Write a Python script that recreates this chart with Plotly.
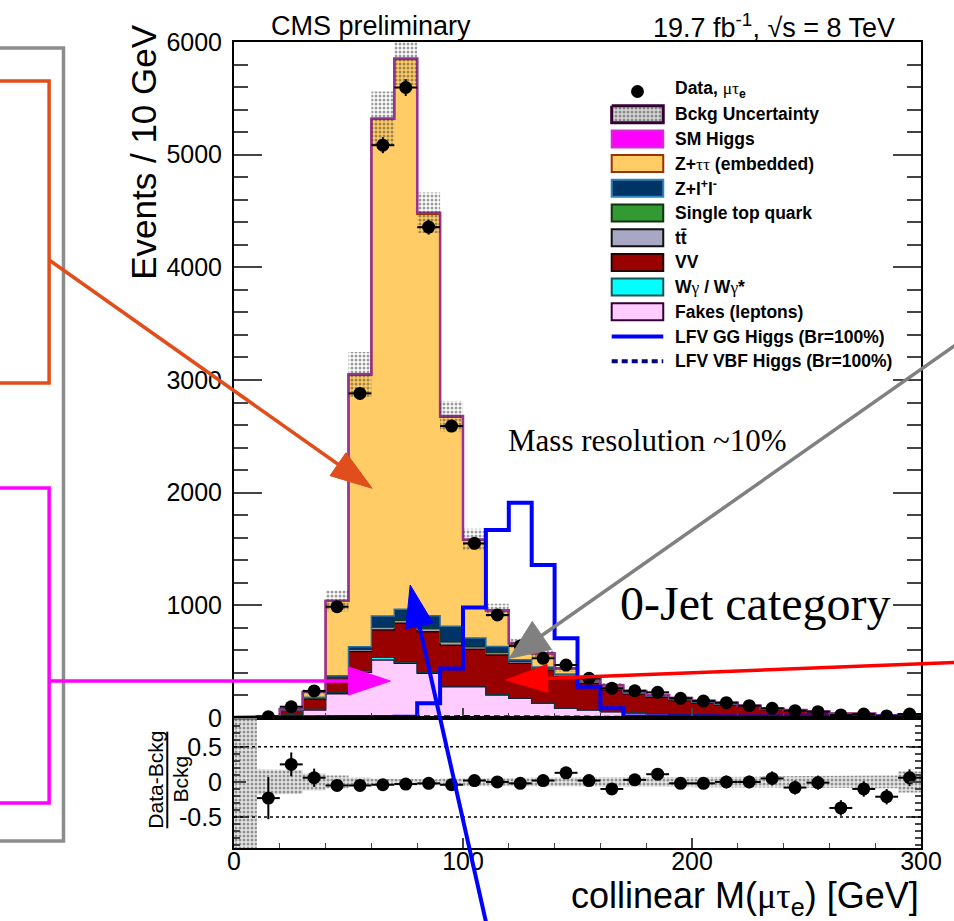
import plotly.graph_objects as go

# ---------------- binning: collinear mass, 10 GeV bins ----------------
bin_edges = list(range(0, 310, 10))
bin_centers = [e + 5 for e in bin_edges[:-1]]

# ---------------- observed events per bin ----------------
data_counts = [None, 12, 100, 240, 988, 2881, 5084, 5596, 4357, 2591, 1550, 914, 640, 530, 470,
               352, 263, 242, 228, 175, 150, 136, 109, 86, 65, 56, 27, 35, 18, 35]
data_err = [0, 4, 10, 15, 31, 54, 71, 75, 66, 51, 39, 30, 25, 23, 22,
            19, 16, 16, 15, 13, 12, 12, 10, 9, 8, 7, 5, 6, 4, 6]

# ---------------- background processes (events per bin) ----------------
fakes = [0.5, 6, 25, 70, 215, 405, 515, 485, 397, 278, 280, 204, 175, 130, 86,
         70, 55, 45, 38, 30, 25, 22, 18, 14, 11, 9, 7, 6, 4, 5]
wgamma = [0, 0.5, 3, 8, 10, 12, 22, 10, 8, 6, 5, 4, 3, 2, 2,
          1, 1, 1, 1, 1, 0.5, 0.5, 0.5, 0.3, 0.3, 0.2, 0.2, 0.1, 0.1, 0.1]
diboson = [0.3, 6, 40, 90, 125, 174, 243, 345, 361, 362, 325, 352, 307, 294, 279,
           237, 194, 168, 145, 125, 108, 96, 78, 58, 50, 40, 30, 28, 16, 22]
ttbar = [0, 0.5, 3, 5, 8, 12, 20, 20, 20, 22, 15, 15, 12, 12, 12,
         10, 9, 8, 7, 6, 5, 5, 4, 3, 3, 2, 2, 2, 1, 2]
single_top = [0, 0.1, 1, 2, 3, 4, 6, 6, 6, 6, 6, 5, 5, 4, 4,
              3, 3, 3, 2, 2, 2, 2, 1.5, 1, 1, 1, 1, 0.5, 0.5, 0.5]
z_ll = [0, 0.5, 3, 10, 15, 25, 100, 100, 115, 140, 80, 55, 15, 10, 8,
        5, 5, 4, 3, 3, 2, 2, 2, 1, 1, 1, 0.5, 0.5, 0.5, 0.5]
z_tautau = [0.7, 2.4, 5, 45, 663, 2413, 4410, 4880, 3567, 1858, 868, 317, 143, 118, 47,
            17, 21, 10, 8, 10, 10, 8, 4.5, 4.4, 4.5, 3.6, 2.2, 1.8, 2.8, 2.8]
sm_higgs = [0, 0, 0, 0, 2, 5, 5, 7, 10, 8, 6, 5, 5, 4, 3,
            2, 2, 1, 1, 1, 0.5, 0.5, 0.5, 0.3, 0.2, 0.2, 0.1, 0.1, 0.1, 0.1]

# relative uncertainty on the summed background
bkg_rel_unc = [3.0, 0.18, 0.17, 0.12, 0.09, 0.065, 0.045, 0.04, 0.04, 0.05, 0.06, 0.06, 0.06, 0.065, 0.065,
               0.07, 0.07, 0.07, 0.07, 0.07, 0.075, 0.075, 0.075, 0.08, 0.08, 0.08, 0.085, 0.085, 0.09, 0.15]

# ---------------- LFV signal hypotheses (Br = 100%) ----------------
lfv_gg = [3, 5, 6, 6, 8, 8, 10, 12, 130, 440, 980, 1668, 1910, 1358, 707,
          278, 86, 15, 12, 12, 10, 10, 10, 10, 10, 10, 10, 10, 10, 10]
lfv_vbf = [0, 0, 1, 1, 2, 3, 4, 5, 7, 8, 9, 10, 9, 8, 6,
           4, 2, 1, 1, 1, 1, 1, 1, 0.5, 0.5, 0.5, 0.5, 0.5, 0.5, 0.5]

# ---------------- (Data - Bckg) / Bckg ----------------
ratio_vals = [None, -0.23, 0.25, 0.06, -0.05, -0.05, -0.04, -0.03, -0.02, -0.04, 0.02, 0.0, -0.02, 0.02, 0.13,
              0.02, -0.10, 0.03, 0.11, -0.02, -0.02, 0.0, 0.0, 0.05, -0.08, -0.01, -0.37, -0.10, -0.21, 0.06]
ratio_err = [0, 0.30, 0.17, 0.13, 0.04, 0.025, 0.02, 0.02, 0.02, 0.025, 0.03, 0.04, 0.045, 0.05, 0.05,
             0.06, 0.06, 0.07, 0.07, 0.08, 0.08, 0.09, 0.09, 0.1, 0.1, 0.1, 0.11, 0.11, 0.11, 0.12]

# legend entries: (label, fill, outline)
legend_entries = [
    ("<b>Bckg Uncertainty</b>", None, "#330033"),
    ("<b>SM Higgs</b>", "#FF00FF", "#CC33CC"),
    ("<b>Z+</b><span style='font-family:Liberation Serif'>ττ</span><b> (embedded)</b>", "#FFCC66", "#993300"),
    ("<b>Z+l<sup>+</sup>l<sup>-</sup></b>", "#003366", "#2F86B8"),
    ("<b>Single top quark</b>", "#339933", "#123312"),
    ("<b>tt\u0304</b>", "#A8A8C4", "#111111"),
    ("<b>VV</b>", "#990000", "#2A0000"),
    ("<b>W</b><span style='font-family:Liberation Serif'>γ</span><b> / W</b>"
     "<span style='font-family:Liberation Serif'>γ</span><b>*</b>", "#00FFFF", "#115555"),
    ("<b>Fakes (leptons)</b>", "#FFCCFF", "#330033"),
]

SANS = "Liberation Sans, Arial, Helvetica, sans-serif"
SERIF = "Liberation Serif, Times New Roman, serif"

# ---------------- page geometry (pixels) ----------------
W, H = 954, 921
L, R, T, B = 234, 927, 42, 848
SPLIT = 718
ratio_frac = (B - SPLIT) / (B - T)


def px(x):
    return (x - L) / (R - L)


def py(y):
    return (B - y) / (B - T)


def step_path(vals):
    xs, ys = [], []
    for i, v in enumerate(vals):
        xs += [bin_edges[i], bin_edges[i + 1]]
        ys += [v, v]
    return xs, ys


def band_polygon(lo, hi):
    xl, yl = step_path(lo)
    xh, yh = step_path(hi)
    return xl + xh[::-1] + [xl[0]], yl + yh[::-1] + [yl[0]]


fig = go.Figure()

# ---------------- stacked backgrounds ----------------
stack = [
    (fakes, "#FFCCFF", "#330033", 1.5),
    (wgamma, "#00FFFF", "#0B3B3B", 1.2),
    (diboson, "#990000", "#2A0000", 1.5),
    (ttbar, "#A8A8C4", "#8A8AA8", 1.2),
    (single_top, "#339933", "#123312", 1.0),
    (z_ll, "#003366", "#2F6F99", 1.5),
    (z_tautau, "#FFCC66", "#993300", 2.0),
    (sm_higgs, "#FF00FF", "#993399", 2.5),
]
running = [0.0] * len(bin_centers)
for k, (vals, fillc, linec, lw) in enumerate(stack):
    running = [a + b for a, b in zip(running, vals)]
    xs, ys = step_path(running)
    fig.add_trace(go.Scatter(
        x=xs, y=ys, mode="lines", line=dict(color=linec, width=lw),
        fill="tozeroy" if k == 0 else "tonexty", fillcolor=fillc,
        xaxis="x", yaxis="y", hoverinfo="skip"))
total_bkg = running

# background uncertainty band (main panel)
lo = [t * (1 - u) for t, u in zip(total_bkg, bkg_rel_unc)]
hi = [t * (1 + u) for t, u in zip(total_bkg, bkg_rel_unc)]
bx, byv = band_polygon(lo, hi)
hatch = dict(shape=".", fgcolor="#3a3a3a", bgcolor="rgba(0,0,0,0)", size=4, solidity=0.45)
fig.add_trace(go.Scatter(
    x=bx, y=byv, mode="lines", line=dict(width=0), fill="toself",
    fillcolor="rgba(0,0,0,0)", fillpattern=hatch, xaxis="x", yaxis="y", hoverinfo="skip"))

# LFV signals
gx, gy = step_path(lfv_gg)
fig.add_trace(go.Scatter(x=gx, y=gy, mode="lines", line=dict(color="#0000FF", width=4),
                         xaxis="x", yaxis="y", hoverinfo="skip"))
vx, vy = step_path(lfv_vbf)
fig.add_trace(go.Scatter(x=vx, y=vy, mode="lines", line=dict(color="#000080", width=4, dash="6px,4px"),
                         xaxis="x", yaxis="y", hoverinfo="skip"))

# data
fig.add_trace(go.Scatter(
    x=bin_centers, y=data_counts, mode="markers",
    marker=dict(color="black", size=13),
    error_y=dict(type="data", array=data_err, color="black", thickness=2, width=0),
    error_x=dict(type="constant", value=5, color="black", thickness=2, width=0),
    xaxis="x", yaxis="y", hoverinfo="skip"))

# ---------------- ratio panel ----------------
rlo = [-u for u in bkg_rel_unc]
rhi = [u for u in bkg_rel_unc]
rx, ry = band_polygon(rlo, rhi)
fig.add_trace(go.Scatter(
    x=rx, y=ry, mode="lines", line=dict(width=0), fill="toself",
    fillcolor="rgba(200,200,200,0.35)",
    fillpattern=dict(shape=".", fgcolor="#3a3a3a", bgcolor="rgba(215,215,215,0.6)", size=4, solidity=0.45),
    xaxis="x2", yaxis="y2", hoverinfo="skip"))
fig.add_trace(go.Scatter(
    x=bin_centers, y=ratio_vals, mode="markers",
    marker=dict(color="black", size=13),
    error_y=dict(type="data", array=ratio_err, color="black", thickness=2, width=0),
    error_x=dict(type="constant", value=5, color="black", thickness=2, width=0),
    xaxis="x2", yaxis="y2", hoverinfo="skip"))

# ---------------- legend glyphs ----------------
row0 = 89.5
row_h = 24.7
box_x0, box_x1 = 615, 667
text_x = 677
legend_font = 17.5
shapes = []
annotations = []


def rect_px(x0, y0, x1, y1, fill, line, lw):
    return dict(type="rect", xref="paper", yref="paper", x0=px(x0), x1=px(x1),
                y0=py(y1), y1=py(y0), fillcolor=fill, line=dict(color=line, width=lw), layer="above")


def text_px(x, y, s, size, family=SANS, xanchor="left", yanchor="middle", angle=0, color="black"):
    annotations.append(dict(x=px(x), y=py(y), xref="paper", yref="paper", text=s, showarrow=False,
                            xanchor=xanchor, yanchor=yanchor, textangle=angle,
                            font=dict(size=size, family=family, color=color)))


# data entry
shapes.append(dict(type="circle", xref="paper", yref="paper", x0=px(641 - 6.5), x1=px(641 + 6.5),
                   y0=py(91.5 + 6.5), y1=py(91.5 - 6.5), fillcolor="black", line=dict(width=0), layer="above"))
text_px(text_x, row0, "<b>Data,</b> <span style='font-family:Liberation Serif'>μτ</span><sub><b>e</b></sub>",
        legend_font)

for i, (label, fillc, linec) in enumerate(legend_entries):
    yc = row0 + row_h * (i + 1)
    if fillc is None:
        hx = [box_x0, box_x1, box_x1, box_x0, box_x0]
        hy = [yc - 8.5, yc - 8.5, yc + 8.5, yc + 8.5, yc - 8.5]
        fig.add_trace(go.Scatter(
            x=hx, y=hy, mode="lines", line=dict(color=linec, width=3), fill="toself",
            fillcolor="rgba(0,0,0,0)",
            fillpattern=dict(shape=".", fgcolor="#3a3a3a", bgcolor="#d8d8d8", size=4, solidity=0.45),
            xaxis="x3", yaxis="y3", hoverinfo="skip"))
    else:
        shapes.append(rect_px(box_x0, yc - 8.5, box_x1, yc + 8.5, fillc, linec, 2))
    text_px(text_x, yc, label, legend_font)

yc = row0 + row_h * 10
shapes.append(dict(type="line", xref="paper", yref="paper", x0=px(box_x0), x1=px(box_x1),
                   y0=py(yc), y1=py(yc), line=dict(color="#0000FF", width=4), layer="above"))
text_px(text_x, yc, "<b>LFV GG Higgs (Br=100%)</b>", legend_font)
yc = row0 + row_h * 11
shapes.append(dict(type="line", xref="paper", yref="paper", x0=px(box_x0), x1=px(box_x1),
                   y0=py(yc), y1=py(yc), line=dict(color="#000080", width=4, dash="6px,4px"), layer="above"))
text_px(text_x, yc, "<b>LFV VBF Higgs (Br=100%)</b>", legend_font)

# ---------------- ratio reference lines ----------------
for yv in (0.5, -0.5):
    shapes.append(dict(type="line", xref="x2", yref="y2", x0=0, x1=300, y0=yv, y1=yv,
                       line=dict(color="black", width=1.5, dash="dot"), layer="above"))

# ---------------- titles and axis labels ----------------
text_px(269, 26, "CMS preliminary", 27)
text_px(655, 26, "19.7 fb<sup>-1</sup>, \u221As = 8 TeV", 27)
text_px(143, 152, "Events / 10 GeV", 35, angle=-90, xanchor="center")
text_px(154, 780, "Data-Bckg", 21, angle=-90, xanchor="center")
text_px(180, 779, "Bckg", 21, angle=-90, xanchor="center")
shapes.append(dict(type="line", xref="paper", yref="paper", x0=px(166.7), x1=px(166.7),
                   y0=py(731.7), y1=py(828.3), line=dict(color="black", width=2)))
text_px(927, 898, "collinear M(<span style='font-family:Liberation Serif'>μτ</span><sub>e</sub>) [GeV]",
        36, xanchor="right")

text_px(508, 441, "Mass resolution ~10%", 31, family=SERIF)
text_px(621, 603, "0-Jet category", 48, family=SERIF)

# ---------------- annotation boxes and arrows ----------------
shapes.append(rect_px(-10, 48, 62, 841, "rgba(0,0,0,0)", "#8C8C8C", 3.5))
shapes.append(rect_px(-10, 81, 47.5, 383, "rgba(0,0,0,0)", "#E04E1B", 3.5))
shapes.append(rect_px(-10, 488, 47.5, 803, "rgba(0,0,0,0)", "#FF00FF", 3.5))


def arrow(x0, y0, x1, y1, color, lw, hl, hw):
    dx, dy = x1 - x0, y1 - y0
    n = (dx * dx + dy * dy) ** 0.5
    ux, uy = dx / n, dy / n
    bxp, byp = x1 - ux * hl, y1 - uy * hl
    shapes.append(dict(type="line", xref="paper", yref="paper",
                       x0=px(x0), y0=py(y0), x1=px(bxp + ux * 4), y1=py(byp + uy * 4),
                       line=dict(color=color, width=lw), layer="above"))
    c1 = (bxp - uy * hw, byp + ux * hw)
    c2 = (bxp + uy * hw, byp - ux * hw)
    path = "M {} {} L {} {} L {} {} Z".format(px(x1), py(y1), px(c1[0]), py(c1[1]), px(c2[0]), py(c2[1]))
    shapes.append(dict(type="path", xref="paper", yref="paper", path=path,
                       fillcolor=color, line=dict(color=color, width=1), layer="above"))


arrow(47.5, 260, 373.3, 488.3, "#E04E1B", 3.5, 42, 14)
arrow(47.5, 681, 391.7, 681, "#FF00FF", 3.5, 42, 14)
arrow(962, 345, 511.7, 658.3, "#808080", 3.5, 40, 17)
arrow(962, 662.4, 508.3, 680, "#FF0000", 3.5, 42, 14)
arrow(490, 930, 411.7, 585, "#0000FF", 4, 42, 14)

# ---------------- axes ----------------
tickfont = dict(size=25, family=SANS, color="black")
fig.update_layout(
    width=W, height=H,
    margin=dict(l=L, r=W - R, t=T, b=H - B, pad=0),
    paper_bgcolor="white", plot_bgcolor="white",
    showlegend=False,
    shapes=shapes, annotations=annotations,
    xaxis=dict(domain=[0, 1], anchor="y", range=[0, 300], showline=True, linecolor="black", linewidth=2,
               mirror=True, ticks="inside", ticklen=10, tickwidth=1.5, tick0=0, dtick=100,
               minor=dict(ticks="inside", ticklen=5, dtick=20, tickwidth=1), showticklabels=False,
               showgrid=False, zeroline=False),
    yaxis=dict(domain=[ratio_frac, 1], anchor="x", range=[0, 6000], showline=True, linecolor="black",
               linewidth=2, mirror="ticks", ticks="inside", ticklen=28, tickwidth=2, tick0=0, dtick=1000,
               minor=dict(ticks="inside", ticklen=14, dtick=200, tickwidth=2), tickfont=tickfont,
               showgrid=False, zeroline=False, ticklabelstandoff=5),
    xaxis2=dict(domain=[0, 1], anchor="y2", range=[0, 300], matches="x", showline=True, linecolor="black",
                linewidth=2, mirror=True, ticks="inside", ticklen=10, tickwidth=1.5, tick0=0, dtick=100,
                minor=dict(ticks="inside", ticklen=5, dtick=20, tickwidth=1), tickfont=tickfont,
                showgrid=False, zeroline=False, ticklabelstandoff=-10),
    yaxis2=dict(domain=[0, ratio_frac], anchor="x2", range=[-0.94, 0.91], showline=True, linecolor="black",
                linewidth=2, mirror="ticks", ticks="inside", ticklen=12, tickwidth=1.5,
                tickmode="array", tickvals=[-0.5, 0, 0.5], ticktext=["-0.5", "0", "0.5"],
                minor=dict(ticks="inside", ticklen=6, dtick=0.1, tick0=0, tickwidth=1.5),
                tickfont=tickfont, showgrid=False, zeroline=False, ticklabelstandoff=5),
    xaxis3=dict(overlaying="x", anchor="y3", range=[L, R], visible=False),
    yaxis3=dict(overlaying="y", anchor="x3", range=[SPLIT, T], visible=False),
)

fig.write_html("out.html")
